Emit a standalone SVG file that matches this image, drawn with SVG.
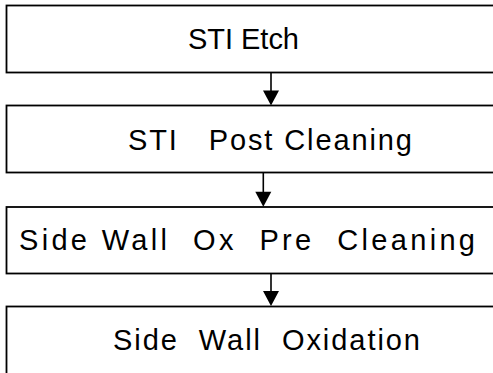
<svg xmlns="http://www.w3.org/2000/svg" width="493" height="373" viewBox="0 0 493 373">
<defs>
<style>
.box{fill:#fff;stroke:#000;stroke-width:1.8}
.lbl{font-family:"Liberation Sans",Arial,sans-serif;font-size:29px;fill:#000;white-space:pre}
.ln{stroke:#000;stroke-width:1.6;fill:none}
.ah{fill:#000}
</style>
</defs>
<rect width="493" height="373" fill="#fff"/>
<g id="n1"><rect class="box" x="6.5" y="5.5" width="500" height="67"/><text class="lbl" x="188" y="48.5" textLength="111" lengthAdjust="spacing">STI Etch</text></g>
<g id="n2"><rect class="box" x="6.5" y="105.5" width="500" height="67"/><text class="lbl" x="128" y="150" textLength="284" lengthAdjust="spacing" xml:space="preserve">STI   Post Cleaning</text></g>
<g id="n3"><rect class="box" x="6.5" y="207" width="500" height="66.5"/><text class="lbl" x="19" y="250" textLength="456" lengthAdjust="spacing" xml:space="preserve">Side Wall  Ox  Pre  Cleaning</text></g>
<g id="n4"><rect class="box" x="6.5" y="306.5" width="500" height="80"/><text class="lbl" x="113" y="350" textLength="307" lengthAdjust="spacing" xml:space="preserve">Side  Wall  Oxidation</text></g>
<g id="connectors">
<line class="ln" x1="271" y1="72.5" x2="271" y2="92"/><polygon class="ah" points="263,90.5 279,90.5 271,105.5"/>
<line class="ln" x1="263.3" y1="172.5" x2="263.3" y2="193"/><polygon class="ah" points="255.3,191.7 271.3,191.7 263.3,206.7"/>
<line class="ln" x1="271" y1="273.5" x2="271" y2="293"/><polygon class="ah" points="263,291 279,291 271,306"/>
</g>
</svg>
